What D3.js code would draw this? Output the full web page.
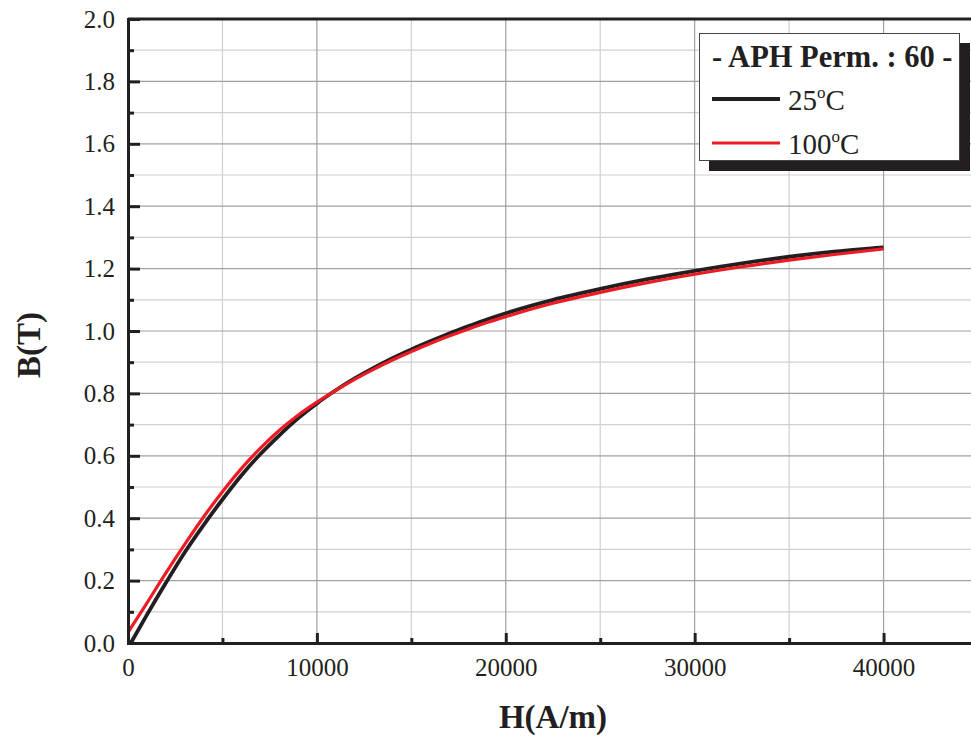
<!DOCTYPE html>
<html><head><meta charset="utf-8">
<script src="https://cdn.jsdelivr.net/npm/d3@7"></script>
<style>
html,body{margin:0;padding:0;background:#fff;}
svg{display:block;font-family:"Liberation Serif","Times New Roman",serif;}
</style></head>
<body><svg id="chart" width="971" height="738"></svg>
<script>
// ---- data ----
const seriesNames = ["25\u00B0C", "100\u00B0C"];
const h25  = [150, 1000, 2000, 3000, 4000, 5000, 6000, 7000, 8000, 9000, 10000, 11000, 12000, 13000, 14000, 15000, 16000, 17000, 18000, 19000, 20000, 22500, 25000, 27500, 30000, 32500, 35000, 37500, 40000];
const b25  = [0, 0.09, 0.192, 0.29, 0.378, 0.46, 0.537, 0.605, 0.665, 0.72, 0.768, 0.81, 0.848, 0.882, 0.913, 0.941, 0.967, 0.992, 1.015, 1.037, 1.057, 1.100, 1.135, 1.166, 1.193, 1.217, 1.238, 1.255, 1.268];
const h100 = [0, 1000, 2000, 3000, 4000, 5000, 6000, 7000, 8000, 9000, 10000, 11000, 12000, 13000, 14000, 15000, 16000, 17000, 18000, 19000, 20000, 22500, 25000, 27500, 30000, 32500, 35000, 37500, 40000];
const b100 = [0.034, 0.128, 0.224, 0.316, 0.404, 0.485, 0.559, 0.624, 0.681, 0.73, 0.772, 0.81, 0.845, 0.877, 0.907, 0.934, 0.96, 0.984, 1.006, 1.027, 1.046, 1.089, 1.124, 1.155, 1.182, 1.206, 1.227, 1.246, 1.263];
const xMajorTicks = [0, 10000, 20000, 30000, 40000];
const xMinorTicks = [5000, 15000, 25000, 35000];
const yMajorTicks = [0, 0.2, 0.4, 0.6, 0.8, 1.0, 1.2, 1.4, 1.6, 1.8, 2.0];
const yMinorTicks = [0.1, 0.3, 0.5, 0.7, 0.9, 1.1, 1.3, 1.5, 1.7, 1.9];
const legendTitle = "- APH Perm. : 60 -";
const xTitle = "H(A/m)";
const yTitle = "B(T)";

// ---- layout ----
const svg = d3.select("#chart");
const L = 128, T = 19, B = 643;
const x = d3.scaleLinear().domain([0, 45000]).range([L, L + 850]);
const y = d3.scaleLinear().domain([0, 2.0]).range([B, T]);
const ink = "#231f20";
const serif = '"Liberation Serif", "Times New Roman", serif';

// grid
const g = svg.append("g");
g.selectAll(".gxm").data(xMinorTicks).join("line")
  .attr("x1", d => x(d)).attr("x2", d => x(d)).attr("y1", T).attr("y2", B)
  .attr("stroke", "#d0d0d0").attr("stroke-width", 1.2);
g.selectAll(".gym").data(yMinorTicks).join("line")
  .attr("x1", L).attr("x2", 971).attr("y1", d => y(d)).attr("y2", d => y(d))
  .attr("stroke", "#d0d0d0").attr("stroke-width", 1.2);
g.selectAll(".gxM").data(xMajorTicks.filter(d => d > 0)).join("line")
  .attr("x1", d => x(d)).attr("x2", d => x(d)).attr("y1", T).attr("y2", B)
  .attr("stroke", "#a0a0a0").attr("stroke-width", 1.2);
g.selectAll(".gyM").data(yMajorTicks.filter(d => d > 0 && d < 2)).join("line")
  .attr("x1", L).attr("x2", 971).attr("y1", d => y(d)).attr("y2", d => y(d))
  .attr("stroke", "#a0a0a0").attr("stroke-width", 1.2);

// curves
const line = d3.line().x(d => x(d[0])).y(d => y(d[1])).curve(d3.curveMonotoneX);
const d25 = h25.map((h, i) => [h, b25[i]]);
const d100 = h100.map((h, i) => [h, b100[i]]);
svg.append("path").datum(d25).attr("d", line).attr("fill", "none")
  .attr("stroke", ink).attr("stroke-width", 3.8).attr("stroke-linejoin", "round");
svg.append("path").datum(d100).attr("d", line).attr("fill", "none")
  .attr("stroke", "#ed1c24").attr("stroke-width", 3.2).attr("stroke-linejoin", "round");

// axes
function styleAxis(sel) {
  sel.attr("font-family", null).attr("font-size", null);
  sel.selectAll("path.domain").attr("stroke", ink).attr("stroke-width", 3);
  sel.selectAll(".tick line").attr("stroke", ink).attr("stroke-width", 3);
  sel.selectAll(".tick text").attr("fill", ink)
     .style("font-size", "25px").style("font-family", serif);
}
const xAxisMinor = d3.axisBottom(x).tickValues(xMinorTicks).tickSize(-5).tickSizeOuter(0).tickFormat("");
const xAxis = d3.axisBottom(x).tickValues(xMajorTicks).tickSize(-10).tickSizeOuter(0).tickPadding(15).tickFormat(d3.format("d"));
const yAxisMinor = d3.axisLeft(y).tickValues(yMinorTicks).tickSize(-6).tickSizeOuter(0).tickFormat("");
const yAxis = d3.axisLeft(y).tickValues(yMajorTicks).tickSize(-12).tickSizeOuter(0).tickPadding(13).tickFormat(d3.format(".1f"));

svg.append("g").attr("transform", `translate(0,${B})`).call(xAxisMinor).call(styleAxis);
svg.append("g").attr("transform", `translate(0,${B})`).call(xAxis).call(styleAxis);
svg.append("g").attr("transform", `translate(${L},0)`).call(yAxisMinor).call(styleAxis);
svg.append("g").attr("transform", `translate(${L},0)`).call(yAxis).call(styleAxis);
svg.selectAll(".domain").attr("stroke-linecap", "square");

// top frame line
svg.append("line").attr("x1", L).attr("x2", 971).attr("y1", T).attr("y2", T)
  .attr("stroke", ink).attr("stroke-width", 3);

// axis titles
svg.append("text").attr("x", 553).attr("y", 728).attr("text-anchor", "middle")
  .style("font-size", "33px").style("font-family", serif).attr("font-weight", "bold").attr("fill", ink).text(xTitle);
svg.append("text").attr("transform", "translate(40,345) rotate(-90)").attr("text-anchor", "middle")
  .style("font-size", "33px").style("font-family", serif).attr("font-weight", "bold").attr("fill", ink).text(yTitle);

// legend
const lg = svg.append("g");
lg.append("rect").attr("x", 709).attr("y", 43).attr("width", 261).attr("height", 128).attr("fill", ink);
lg.append("rect").attr("x", 699.5).attr("y", 33.5).attr("width", 260).attr("height", 127)
  .attr("fill", "#fff").attr("stroke", "#444").attr("stroke-width", 1);
lg.append("text").attr("x", 712).attr("y", 67).style("font-size", "30.5px").style("font-family", serif)
  .attr("font-weight", "bold").attr("fill", ink).text(legendTitle);
const items = [
  {name: seriesNames[0], color: ink, w: 4, ly: 99, ty: 110},
  {name: seriesNames[1], color: "#ed1c24", w: 3, ly: 143, ty: 154}
];
items.forEach(it => {
  lg.append("line").attr("x1", 712).attr("x2", 780).attr("y1", it.ly).attr("y2", it.ly)
    .attr("stroke", it.color).attr("stroke-width", it.w);
  const parts = it.name.split("\u00B0");
  const t = lg.append("text").attr("x", 788).attr("y", it.ty)
    .style("font-size", "29px").style("font-family", serif).attr("fill", ink);
  t.append("tspan").text(parts[0]);
  t.append("tspan").style("font-size", "17px").attr("dy", -12).text("o");
  t.append("tspan").attr("dy", 12).text("C");
});
</script></body></html>
